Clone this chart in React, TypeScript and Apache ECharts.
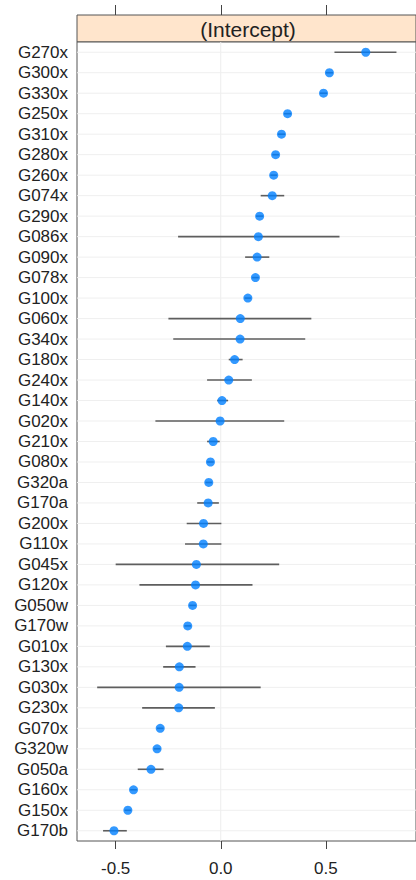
import React, { useEffect, useRef } from "react";
import * as echarts from "echarts";

const categories = [
  "G270x", "G300x", "G330x", "G250x", "G310x", "G280x", "G260x", "G074x", "G290x", "G086x",
  "G090x", "G078x", "G100x", "G060x", "G340x", "G180x", "G240x", "G140x", "G020x", "G210x",
  "G080x", "G320a", "G170a", "G200x", "G110x", "G045x", "G120x", "G050w", "G170w", "G010x",
  "G130x", "G030x", "G230x", "G070x", "G320w", "G050a", "G160x", "G150x", "G170b",
];

const estimates = [
  0.69, 0.517, 0.489, 0.318, 0.289, 0.261, 0.252, 0.245, 0.185, 0.179,
  0.173, 0.165, 0.129, 0.093, 0.092, 0.066, 0.038, 0.006, -0.003, -0.036,
  -0.049, -0.057, -0.06, -0.082, -0.083, -0.116, -0.12, -0.134, -0.157, -0.159,
  -0.197, -0.198, -0.2, -0.288, -0.303, -0.332, -0.415, -0.442, -0.508,
];

const lower = [
  0.541, 0.5, 0.472, 0.301, 0.272, 0.245, 0.236, 0.19, 0.168, -0.203,
  0.116, 0.149, 0.113, -0.249, -0.226, 0.038, -0.065, -0.017, -0.311, -0.065,
  -0.065, -0.073, -0.112, -0.162, -0.17, -0.5, -0.387, -0.15, -0.173, -0.261,
  -0.274, -0.588, -0.374, -0.304, -0.319, -0.395, -0.431, -0.458, -0.56,
];

const upper = [
  0.836, 0.534, 0.506, 0.335, 0.306, 0.277, 0.268, 0.302, 0.202, 0.565,
  0.231, 0.181, 0.145, 0.431, 0.402, 0.104, 0.148, 0.035, 0.302, -0.005,
  -0.033, -0.041, -0.009, 0.003, 0.003, 0.278, 0.151, -0.118, -0.141, -0.052,
  -0.12, 0.19, -0.028, -0.272, -0.287, -0.272, -0.399, -0.426, -0.447,
];

const xTicks = [-0.5, 0, 0.5];
const stripLabel = "(Intercept)";

const X_MIN = -0.684;
const X_MAX = 0.929;
const FONT = "'Liberation Sans', Arial, Helvetica, sans-serif";

export default function App() {
  const ref = useRef<HTMLDivElement>(null);

  useEffect(() => {
    if (!ref.current) return;
    const chart = echarts.init(ref.current, null, { renderer: "svg" });

    const barData = categories.map((_c, i) => [lower[i], upper[i], i]);
    const dotData = categories.map((_c, i) => [estimates[i], i]);

    chart.setOption({
      animation: false,
      backgroundColor: "#ffffff",
      textStyle: { fontFamily: FONT },
      grid: [
        {
          left: 77,
          top: 15,
          width: 342,
          height: 27,
          show: true,
          backgroundColor: "#ffe5cc",
          borderColor: "#555555",
          borderWidth: 1,
        },
        {
          left: 77,
          top: 42,
          width: 342,
          bottom: 39,
          show: true,
          backgroundColor: "#ffffff",
          borderColor: "#555555",
          borderWidth: 1,
        },
      ],
      xAxis: [
        {
          type: "value",
          gridIndex: 0,
          position: "top",
          min: X_MIN,
          max: X_MAX,
          axisLine: { show: false, onZero: false },
          axisTick: {
            show: true,
            inside: false,
            length: 10,
            customValues: xTicks,
            lineStyle: { color: "#444444", width: 1 },
          },
          axisLabel: { show: false },
          splitLine: { show: false },
        },
        {
          type: "value",
          gridIndex: 1,
          position: "bottom",
          min: X_MIN,
          max: X_MAX,
          axisLine: { show: false, onZero: false },
          axisTick: {
            show: true,
            inside: false,
            length: 8,
            customValues: xTicks,
            lineStyle: { color: "#444444", width: 1 },
          },
          axisLabel: {
            show: true,
            customValues: xTicks,
            fontSize: 17,
            color: "#222222",
            fontFamily: FONT,
            margin: 19,
            formatter: (v: number) => v.toFixed(1),
          },
          splitLine: { show: false },
        },
      ],
      yAxis: [
        {
          type: "value",
          gridIndex: 0,
          min: 0,
          max: 1,
          show: false,
        },
        {
          type: "category",
          gridIndex: 1,
          data: categories,
          inverse: true,
          axisLine: { show: false },
          axisTick: { show: false },
          splitLine: { show: false },
          axisLabel: {
            interval: 0,
            fontSize: 17,
            color: "#222222",
            fontFamily: FONT,
            margin: 9,
          },
        },
      ],
      graphic: [
        {
          type: "text",
          x: 248,
          y: 29,
          style: {
            text: stripLabel,
            fontSize: 21,
            fontFamily: FONT,
            fill: "#222222",
            textAlign: "center",
            textVerticalAlign: "middle",
          },
          z: 100,
        },
      ],
      series: [
        {
          type: "custom",
          xAxisIndex: 1,
          yAxisIndex: 1,
          data: barData,
          encode: { x: [0, 1], y: 2 },
          silent: true,
          z: 1,
          renderItem: (params: any, api: any) => {
            const idx = api.value(2);
            const p1 = api.coord([api.value(0), idx]);
            const p2 = api.coord([api.value(1), idx]);
            const zero = api.coord([0, idx]);
            const cs = params.coordSys;
            const children: any[] = [];
            if (params.dataIndex === 0) {
              children.push({
                type: "line",
                shape: { x1: zero[0], y1: cs.y, x2: zero[0], y2: cs.y + cs.height },
                style: { stroke: "#ededed", lineWidth: 1 },
              });
            }
            children.push({
              type: "line",
              shape: { x1: cs.x, y1: p1[1], x2: cs.x + cs.width, y2: p1[1] },
              style: { stroke: "#efefef", lineWidth: 1 },
            });
            children.push({
              type: "line",
              shape: { x1: p1[0], y1: p1[1], x2: p2[0], y2: p2[1] },
              style: { stroke: "#5e5e5e", lineWidth: 1.6 },
            });
            return { type: "group", children };
          },
        },
        {
          type: "scatter",
          xAxisIndex: 1,
          yAxisIndex: 1,
          data: dotData,
          symbol: "circle",
          symbolSize: 9,
          itemStyle: { color: "#0080ff" },
          z: 5,
        },
      ],
    });

    return () => {
      chart.dispose();
    };
  }, []);

  return (
    <div
      ref={ref}
      style={{ position: "absolute", left: 0, top: 0, width: 416, height: 880 }}
    />
  );
}
